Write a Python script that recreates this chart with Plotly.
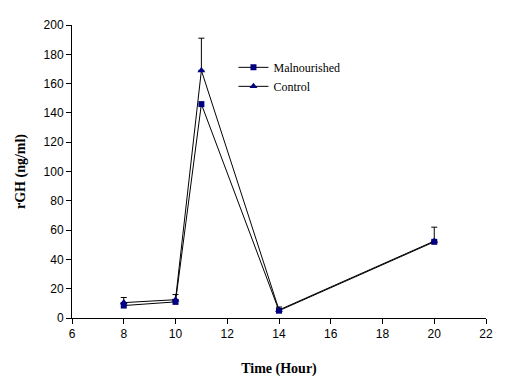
import plotly.graph_objects as go

time = [8, 10, 11, 14, 20]
malnourished = [8.5, 11, 146, 5, 52]
control = [10.5, 12.5, 169, 5.5, 52.5]
control_err = [3.5, 3.5, 22, 2, 9.5]

fig = go.Figure()
fig.add_trace(go.Scatter(
    x=time, y=malnourished, name="Malnourished", mode="lines+markers",
    line=dict(color="black", width=1),
    marker=dict(symbol="square", size=6, color="#000080"),
))
fig.add_trace(go.Scatter(
    x=time, y=control, name="Control", mode="lines+markers",
    line=dict(color="black", width=1),
    marker=dict(symbol="triangle-up", size=7, color="#000080"),
    error_y=dict(type="data", symmetric=False, array=control_err,
                 arrayminus=[0]*5, color="black", thickness=1, width=3),
))

serif = "Liberation Serif, Times New Roman, serif"
fig.update_layout(
    width=501, height=378,
    margin=dict(l=64, r=23, t=10, b=68),
    paper_bgcolor="white", plot_bgcolor="white",
    font=dict(family="Liberation Sans, Arial", size=12, color="black"),
    showlegend=True,
    legend=dict(x=0.39, y=0.905, xanchor="left", yanchor="top",
                font=dict(family=serif, size=12, color="black"),
                bgcolor="rgba(0,0,0,0)", tracegroupgap=0, itemwidth=30),
)
fig.update_xaxes(
    range=[6, 22], dtick=2, tick0=6, showgrid=False, zeroline=False,
    showline=True, linecolor="black", linewidth=1,
    ticks="outside", ticklen=5, tickcolor="black",
    tickfont=dict(size=12),
    title=dict(text="<b>Time (Hour)</b>", standoff=22,
               font=dict(family=serif, size=14)),
)
fig.update_yaxes(
    range=[0, 200], dtick=20, showgrid=False, zeroline=False,
    showline=True, linecolor="black", linewidth=1,
    ticks="outside", ticklen=5, tickcolor="black",
    tickfont=dict(size=12),
    title=dict(text="<b>rGH (ng/ml)</b>", standoff=14,
               font=dict(family=serif, size=14)),
)

fig.write_html("out.html")
